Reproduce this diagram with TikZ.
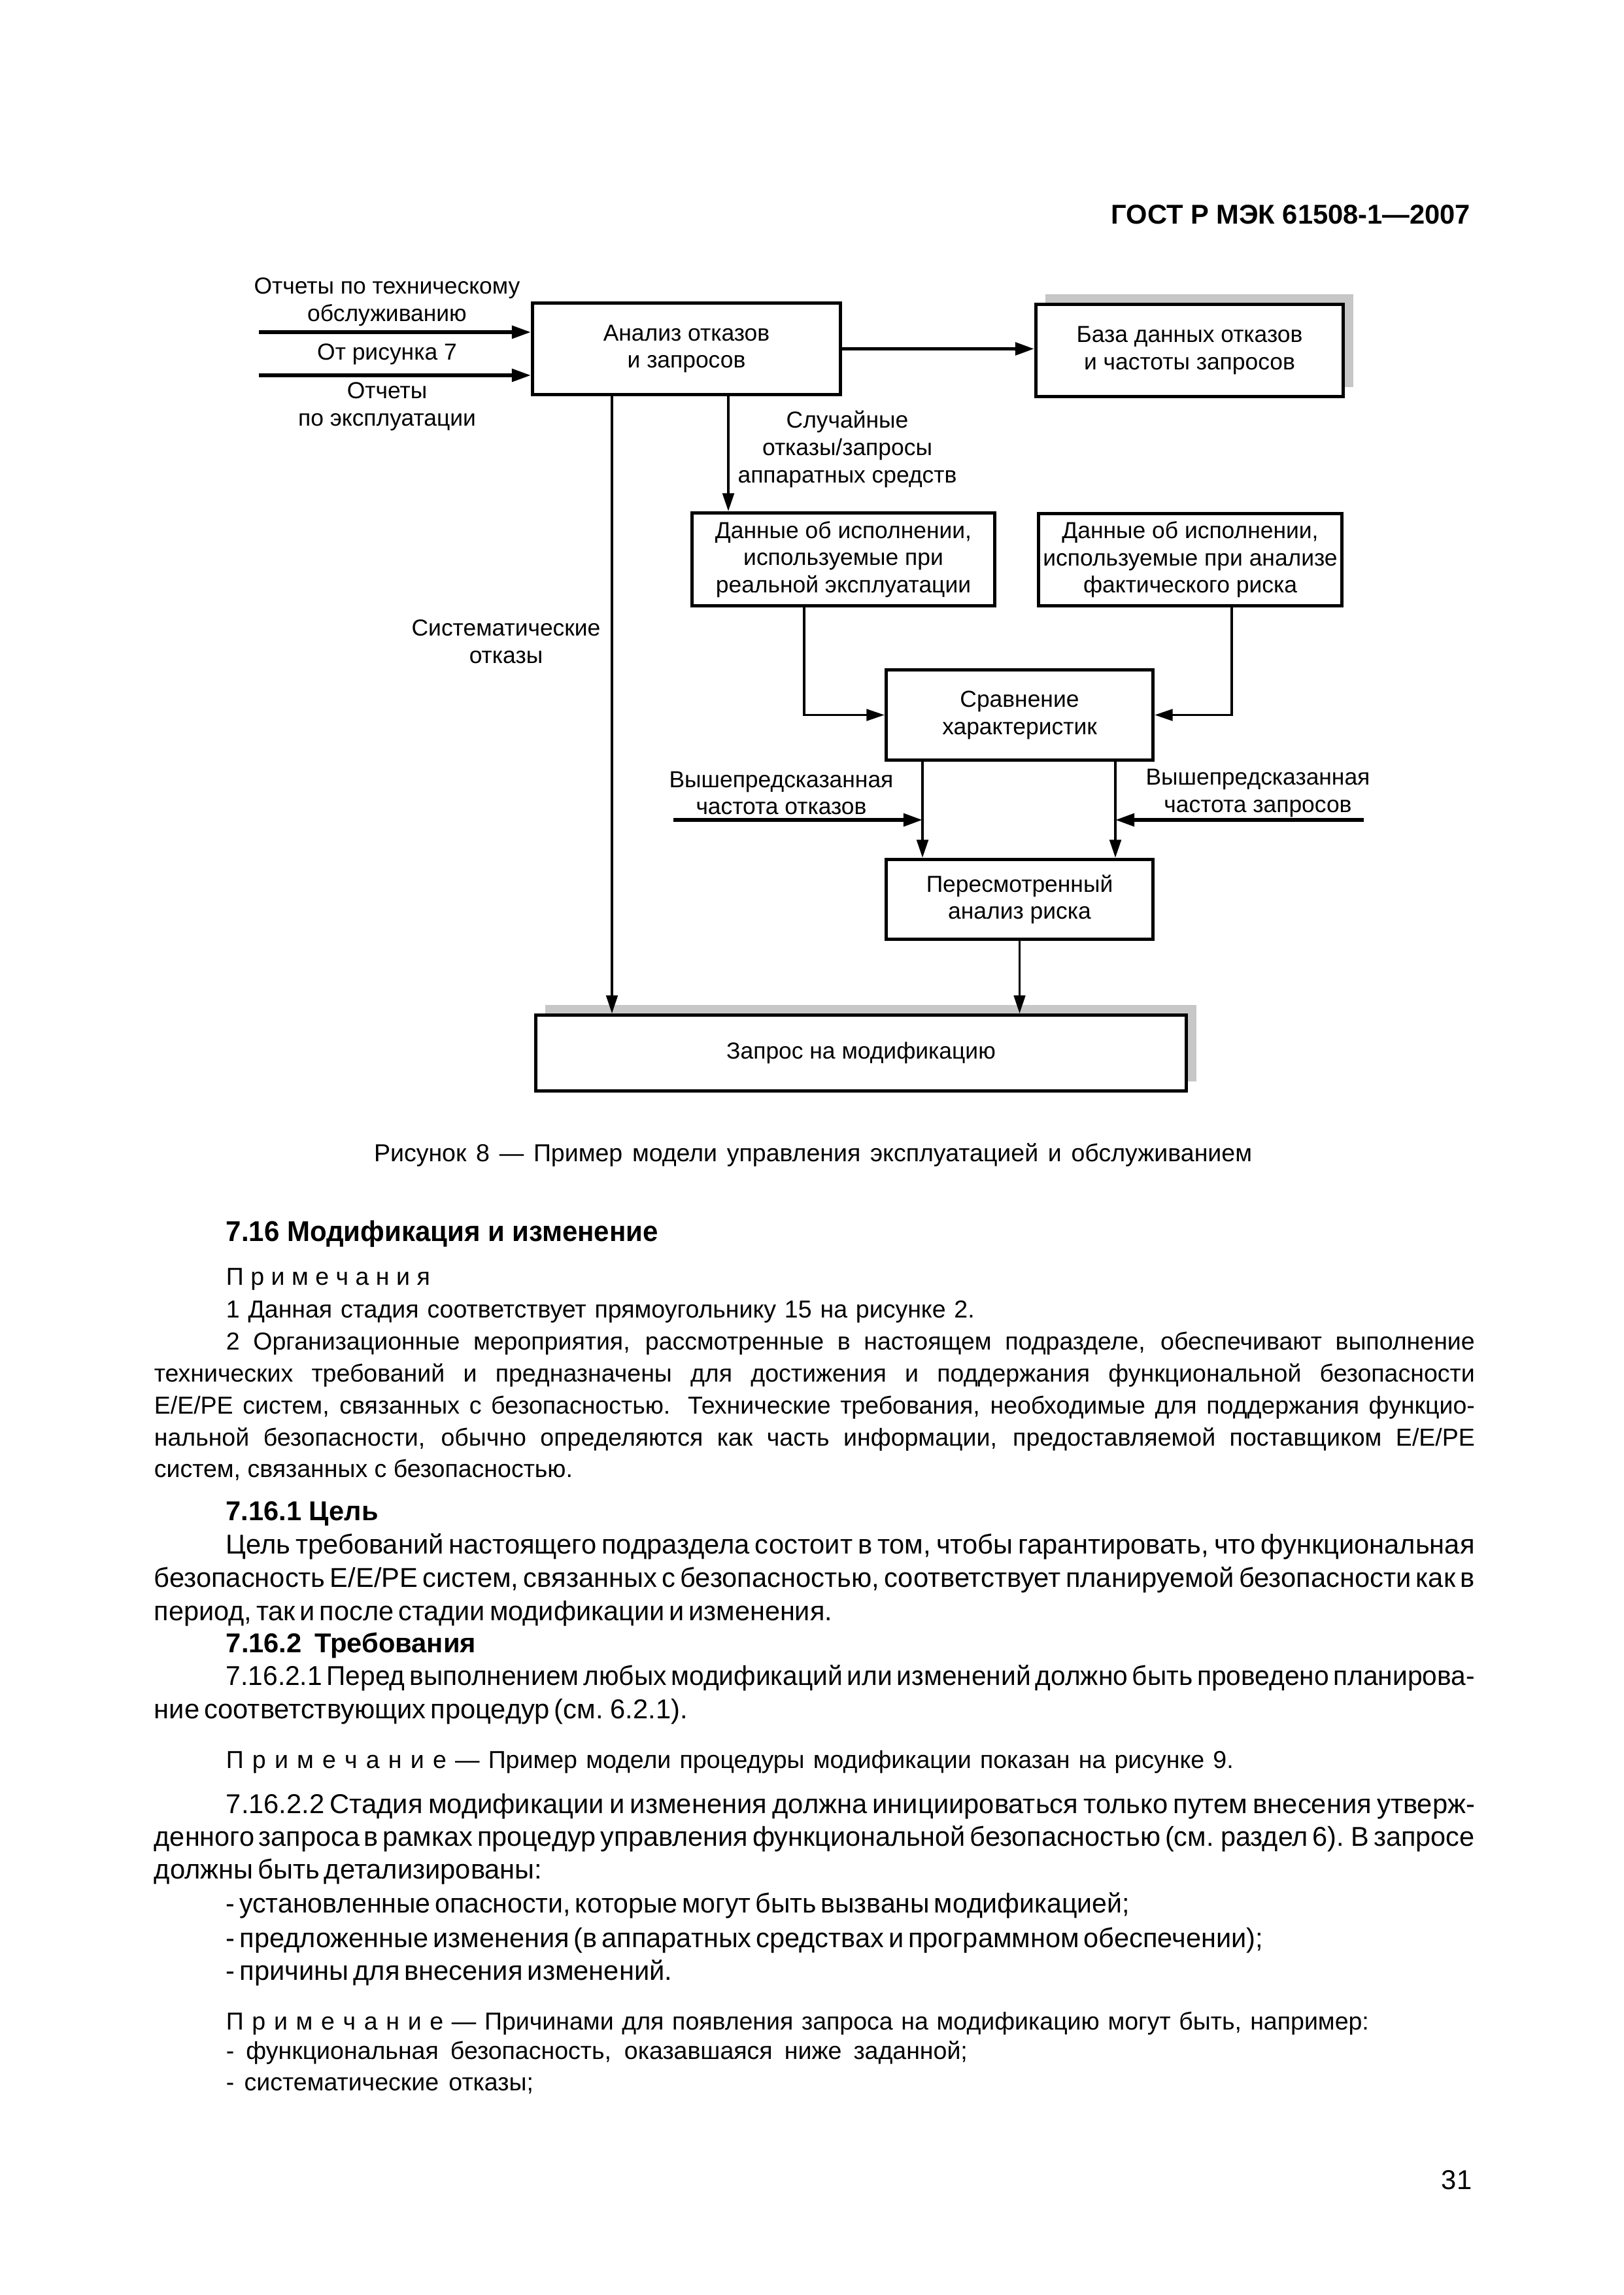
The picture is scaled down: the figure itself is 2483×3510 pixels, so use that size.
\documentclass[tikz,border=0pt]{standalone}
\usepackage{graphicx}
\usepackage{fontspec}
\setmainfont{Liberation Sans}
\newfontfamily\bodyf{Liberation Sans}[WordSpace={0.6,1.5,1}]
\usetikzlibrary{arrows.meta,shadows}
\newsavebox\jbox
\newcommand\jline[2]{\sbox\jbox{#2}\ifdim\wd\jbox>#1\relax\resizebox{#1}{\height}{\usebox\jbox}\else\makebox[#1][s]{#2}\fi}
\newcommand\notesz{\fontsize{9}{11}\selectfont}
\newcommand\bodysz{\bodyf\fontsize{10}{12}\selectfont}
\newcommand\diagsz{\fontsize{8.5}{10}\selectfont}
\begin{document}
\begin{tikzpicture}[x=0.24pt,y=-0.24pt,
  box/.style={draw,line width=1.15pt,fill=white,inner sep=0pt,align=center,font=\diagsz},
  shbox/.style={box,drop shadow={shadow xshift=3.6pt,shadow yshift=3.6pt,fill=black!22,opacity=1}},
  lbl/.style={inner sep=0pt,align=center,font=\diagsz},
  thk/.style={line width=1.3pt,-{Triangle[length=7pt,width=4.6pt]}},
  meda/.style={line width=0.9pt,-{Triangle[length=6.6pt,width=4.2pt]}},
  thna/.style={line width=0.75pt,-{Triangle[length=6.6pt,width=4.2pt]}},
  tl/.style={anchor=base west,inner sep=0pt},
  nt/.style={tl,font=\notesz},
  bt/.style={tl,font=\bodysz}]
\useasboundingbox (0,0) rectangle (2483,3510);
\fill[white] (0,0) rectangle (2483,3510);

% header
\node[anchor=base east,inner sep=0pt,font=\bfseries\fontsize{10}{12}\selectfont] (hdr) at (2250,343) {ГОСТ Р МЭК 61508-1—2007};

% boxes
\node[box,minimum width=113.1pt,minimum height=33.7pt] (A) at (1050,533.5) {Анализ отказов\\и запросов};
\node[shbox,minimum width=112.9pt,minimum height=33.9pt] (B) at (1819.5,536) {База данных отказов\\и частоты запросов};
\node[box,minimum width=111.2pt,minimum height=34.2pt] (D1) at (1290,855.5) {Данные об исполнении,\\используемые при\\реальной эксплуатации};
\node[box,minimum width=111.5pt,minimum height=33.9pt] (D2) at (1820.5,856) {Данные об исполнении,\\используемые при анализе\\фактического риска};
\node[box,minimum width=98pt,minimum height=33.2pt] (C) at (1559.5,1093.5) {Сравнение\\характеристик};
\node[box,minimum width=98pt,minimum height=29.4pt] (P) at (1559.5,1375.5) {Пересмотренный\\анализ риска};
\node[shbox,minimum width=238.9pt,minimum height=27.9pt] (Z) at (1317,1610.5) {Запрос на модификацию};

% labels
\node[lbl] (l1) at (592,462) {Отчеты по техническому\\обслуживанию};
\node[lbl] (l2) at (592,542) {От рисунка 7};
\node[lbl] (l3) at (592,622) {Отчеты\\по эксплуатации};
\node[lbl] (l4) at (1296,687) {Случайные\\отказы/запросы\\аппаратных средств};
\node[lbl] (l5) at (774,981) {Систематические\\отказы};
\node[lbl] (l6) at (1195,1213) {Вышепредсказанная\\частота отказов};
\node[lbl] (l7) at (1924,1213) {Вышепредсказанная\\частота запросов};

% connector coordinates
\coordinate (in1) at (396,508);
\coordinate (in2) at (396,574);
\coordinate (sx) at (936,0);
\coordinate (rx) at (1114,0);
\coordinate (dx1) at (1230,0);
\coordinate (dx2) at (1884,0);
\coordinate (cx1) at (1411,0);
\coordinate (cx2) at (1706,0);
\coordinate (h1) at (1030,1254);
\coordinate (h2) at (2086,1254);

% connectors
\draw[thk] (in1) -- (in1 -| A.west);
\draw[thk] (in2) -- (in2 -| A.west);
\draw[thk] (A.east) -- (A.east -| B.west);
\draw[thna] (A.south -| sx) -- (Z.north -| sx);
\draw[meda] (A.south -| rx) -- (D1.north -| rx);
\draw[meda] (D1.south -| dx1) |- (C.west);
\draw[meda] (D2.south -| dx2) |- (C.east);
\draw[meda] (C.south -| cx1) -- (P.north -| cx1);
\draw[meda] (C.south -| cx2) -- (P.north -| cx2);
\draw[thk] (h1) -- (h1 -| cx1);
\draw[thk] (h2) -- (h2 -| cx2);
\draw[thna] (P.south) -- (P.south |- Z.north);

% caption
\node[anchor=base,inner sep=0pt,font=\fontsize{9}{11}\selectfont] (cap) at (1243.5,1776) {\jline{322.3pt}{Рисунок 8 — Пример модели управления эксплуатацией и обслуживанием}};

% section 7.16
\node[tl,font=\bfseries\fontsize{10.5}{12}\selectfont] (s716) at (345,1898) {\jline{158.6pt}{7.16 Модификация и изменение}};
\node[nt] (n0) at (345,1965) {\jline{74.9pt}{П р и м е ч а н и я}};
\node[nt] (n1) at (345,2015) {\jline{274.8pt}{1 Данная стадия соответствует прямоугольнику 15 на рисунке 2.}};
\node[nt] (n2a) at (345,2064) {\jline{458.4pt}{2 Организационные мероприятия, рассмотренные в настоящем подразделе, обеспечивают выполнение}};
\node[nt] (n2b) at (235,2113) {\jline{484.8pt}{технических требований и предназначены для достижения и поддержания функциональной безопасности}};
\node[nt] (n2c) at (235,2162) {\jline{484.8pt}{E/E/PE систем, связанных с безопасностью. Технические требования, необходимые для поддержания функцио-}};
\node[nt] (n2d) at (235,2211) {\jline{484.8pt}{нальной безопасности, обычно определяются как часть информации, предоставляемой поставщиком E/E/PE}};
\node[nt] (n2e) at (235,2259) {систем, связанных с безопасностью.};

% 7.16.1
\node[tl,font=\bfseries\fontsize{10}{12}\selectfont] (s7161) at (345,2325) {\jline{55.9pt}{7.16.1 Цель}};
\node[bt] (b1a) at (345,2376) {\jline{458.4pt}{Цель требований настоящего подраздела состоит в том, чтобы гарантировать, что функциональная}};
\node[bt] (b1b) at (235,2427) {\jline{484.8pt}{безопасность E/E/PE систем, связанных с безопасностью, соответствует планируемой безопасности как в}};
\node[bt] (b1c) at (235,2478) {\jline{248.9pt}{период, так и после стадии модификации и изменения.}};

% 7.16.2
\node[tl,font=\bfseries\fontsize{10}{12}\selectfont] (s7162) at (345,2527) {\jline{91.7pt}{7.16.2 Требования}};
\node[bt] (b2a) at (345,2577) {\jline{458.4pt}{7.16.2.1 Перед выполнением любых модификаций или изменений должно быть проведено планирова-}};
\node[bt] (b2b) at (235,2628) {ние соответствующих процедур (см. 6.2.1).};
\node[nt] (n3) at (345,2704) {\jline{369.8pt}{П р и м е ч а н и е — Пример модели процедуры модификации показан на рисунке 9.}};
\node[bt] (b3a) at (345,2773) {\jline{458.4pt}{7.16.2.2 Стадия модификации и изменения должна инициироваться только путем внесения утверж-}};
\node[bt] (b3b) at (235,2823) {\jline{484.8pt}{денного запроса в рамках процедур управления функциональной безопасностью (см. раздел 6). В запросе}};
\node[bt] (b3c) at (235,2873) {должны быть детализированы:};
\node[bt] (b4a) at (345,2925) {\jline{331.7pt}{- установленные опасности, которые могут быть вызваны модификацией;}};
\node[bt] (b4b) at (345,2978) {\jline{380.6pt}{- предложенные изменения (в аппаратных средствах и программном обеспечении);}};
\node[bt] (b4c) at (345,3028) {- причины для внесения изменений.};
\node[nt] (n4) at (345,3104) {\jline{419.5pt}{П р и м е ч а н и е — Причинами для появления запроса на модификацию могут быть, например:}};
\node[nt] (n4a) at (345,3149) {\jline{272.2pt}{- функциональная безопасность, оказавшаяся ниже заданной;}};
\node[nt] (n4b) at (345,3197) {\jline{112.8pt}{- систематические отказы;}};

% page number
\node[anchor=base east,inner sep=0pt,font=\fontsize{10}{12}\selectfont] (pg) at (2252,3348) {31};
\end{tikzpicture}
\end{document}
